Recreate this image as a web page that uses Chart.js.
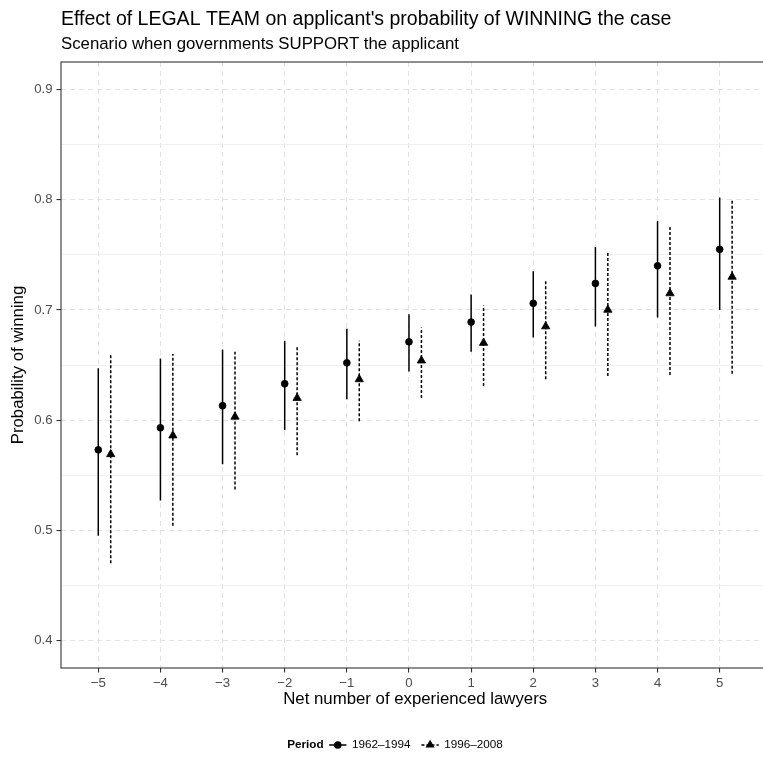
<!DOCTYPE html>
<html>
<head>
<meta charset="utf-8">
<script src="https://cdn.jsdelivr.net/npm/chart.js@4.4.0/dist/chart.umd.min.js"></script>
<style>
  html, body { margin: 0; padding: 0; background: #fff; }
  #wrap { width: 763px; height: 758px; overflow: hidden; }
</style>
</head>
<body>
<div id="wrap"><canvas id="chart" width="775" height="758"></canvas></div>
<script>
// net number of experienced lawyers
const lawyers = [-5, -4, -3, -2, -1, 0, 1, 2, 3, 4, 5];
const xTickLabels = ['\u22125', '\u22124', '\u22123', '\u22122', '\u22121', '0', '1', '2', '3', '4', '5'];

// 1962-1994
const early = [0.573, 0.593, 0.613, 0.633, 0.652, 0.671, 0.689, 0.706, 0.724, 0.740, 0.755];
const earlyLow = [0.495, 0.527, 0.560, 0.591, 0.619, 0.644, 0.662, 0.675, 0.685, 0.693, 0.700];
const earlyHigh = [0.647, 0.656, 0.664, 0.672, 0.683, 0.696, 0.714, 0.735, 0.757, 0.781, 0.802];

// 1996-2008
const late = [0.569, 0.586, 0.603, 0.620, 0.637, 0.654, 0.670, 0.685, 0.700, 0.715, 0.730];
const lateLow = [0.470, 0.504, 0.537, 0.568, 0.599, 0.620, 0.631, 0.637, 0.640, 0.641, 0.642];
const lateHigh = [0.660, 0.660, 0.662, 0.666, 0.672, 0.684, 0.704, 0.727, 0.753, 0.777, 0.801];
const lateShift = 0.2;

const yMajor = [0.4, 0.5, 0.6, 0.7, 0.8, 0.9];
const yMinor = [0.45, 0.55, 0.65, 0.75, 0.85];

const periodLabels = ['1962\u20131994', '1996\u20132008'];

const FONT = '"Liberation Sans", Arial, Helvetica, sans-serif';

function isMajor(v) {
    return yMajor.some(m => Math.abs(m - v) < 1e-6);
}

function barData(xs, lo, hi, shift) {
    let out = [];
    xs.forEach((x, i) => {
        out.push({x: x + shift, y: lo[i]});
        out.push({x: x + shift, y: hi[i]});
        out.push({x: x + shift, y: null});
    });
    return out;
}

const decor = {
    id: 'decor',
    afterDraw(chart) {
        const ctx = chart.ctx;
        const a = chart.chartArea;
        ctx.save();
        // panel border
        ctx.strokeStyle = '#333333';
        ctx.lineWidth = 1.1;
        ctx.strokeRect(a.left, a.top, a.right - a.left, a.bottom - a.top);

        // titles
        ctx.fillStyle = '#000';
        ctx.textBaseline = 'alphabetic';
        ctx.textAlign = 'left';
        ctx.font = '19.5px ' + FONT;
        ctx.fillText("Effect of LEGAL TEAM on applicant's probability of WINNING the case", a.left, 25);
        ctx.font = '16.8px ' + FONT;
        ctx.fillText('Scenario when governments SUPPORT the applicant', a.left, 49);

        // legend
        const y = 745;
        const keyW = 17.3;
        const gap = 5.5;
        ctx.font = 'bold 11.7px ' + FONT;
        const wTitle = ctx.measureText('Period').width;
        ctx.font = '11.7px ' + FONT;
        const w1 = ctx.measureText(periodLabels[0]).width;
        const w2 = ctx.measureText(periodLabels[1]).width;
        const total = wTitle + gap + keyW + gap + w1 + 11 + keyW + gap + w2;
        let x = 395 - total / 2;
        ctx.textBaseline = 'middle';
        ctx.font = 'bold 11.7px ' + FONT;
        ctx.fillText('Period', x, y);
        x += wTitle + gap;

        // key 1
        ctx.strokeStyle = '#000';
        ctx.lineWidth = 1.5;
        ctx.setLineDash([]);
        ctx.beginPath();
        ctx.moveTo(x, y); ctx.lineTo(x + keyW, y);
        ctx.stroke();
        ctx.beginPath();
        ctx.arc(x + keyW / 2, y, 3.8, 0, Math.PI * 2);
        ctx.fill();
        x += keyW + gap;
        ctx.font = '11.7px ' + FONT;
        ctx.fillText(periodLabels[0], x, y);
        x += w1 + 11;

        // key 2
        ctx.setLineDash([3, 2]);
        ctx.beginPath();
        ctx.moveTo(x, y); ctx.lineTo(x + keyW, y);
        ctx.stroke();
        ctx.setLineDash([]);
        const cx = x + keyW / 2, r = 5.2;
        ctx.beginPath();
        ctx.moveTo(cx, y - r);
        ctx.lineTo(cx + r * Math.sin(Math.PI / 3), y + r / 2);
        ctx.lineTo(cx - r * Math.sin(Math.PI / 3), y + r / 2);
        ctx.closePath();
        ctx.fill();
        x += keyW + gap;
        ctx.fillText(periodLabels[1], x, y);
        ctx.restore();
    }
};

const ctx = document.getElementById('chart').getContext('2d');
const chart = new Chart(ctx, {
    type: 'scatter',
    data: {
        datasets: [{
            label: periodLabels[0],
            data: lawyers.map((x, i) => ({x: x, y: early[i]})),
            pointStyle: 'circle',
            pointRadius: 3.4,
            backgroundColor: '#000',
            borderColor: '#000',
            borderWidth: 0.8
        }, {
            label: periodLabels[1],
            data: lawyers.map((x, i) => ({x: x + lateShift, y: late[i]})),
            pointStyle: 'triangle',
            pointRadius: 4.8,
            backgroundColor: '#000',
            borderColor: '#000',
            borderWidth: 0.8
        }, {
            label: periodLabels[0] + ' range',
            data: barData(lawyers, earlyLow, earlyHigh, 0),
            showLine: true,
            spanGaps: false,
            pointRadius: 0,
            borderColor: '#000',
            borderWidth: 1.5
        }, {
            label: periodLabels[1] + ' range',
            data: barData(lawyers, lateLow, lateHigh, lateShift),
            showLine: true,
            spanGaps: false,
            pointRadius: 0,
            borderColor: '#000',
            borderWidth: 1.5,
            borderDash: [3, 2]
        }]
    },
    options: {
        responsive: false,
        animation: false,
        devicePixelRatio: 1,
        events: [],
        layout: {
            padding: {top: 62, left: 0, right: 2, bottom: 49}
        },
        plugins: {
            legend: {display: false},
            tooltip: {enabled: false}
        },
        scales: {
            x: {
                type: 'linear',
                min: -5.6,
                max: 5.8,
                afterBuildTicks: (scale) => {
                    scale.ticks = lawyers.map(v => ({value: v}));
                },
                afterFit: (scale) => { scale.height = 41; },
                ticks: {
                    autoSkip: false,
                    maxRotation: 0,
                    padding: 3,
                    color: '#4d4d4d',
                    font: {family: FONT, size: 13.2},
                    callback: (v) => xTickLabels[lawyers.indexOf(v)]
                },
                grid: {
                    color: '#e3e3e3',
                    lineWidth: 1.1,
                    tickColor: '#333333',
                    tickLength: 4.5,
                    tickWidth: 1.1
                },
                border: {display: false, dash: [5, 4]},
                title: {
                    display: true,
                    text: 'Net number of experienced lawyers',
                    color: '#000',
                    font: {family: FONT, size: 16.8},
                    padding: {top: 0, bottom: 0}
                }
            },
            y: {
                type: 'linear',
                min: 0.375,
                max: 0.925,
                afterBuildTicks: (scale) => {
                    scale.ticks = yMajor.concat(yMinor).sort((a, b) => a - b).map(v => ({value: v}));
                },
                afterFit: (scale) => { scale.width = 61; },
                ticks: {
                    autoSkip: false,
                    padding: 4,
                    color: '#4d4d4d',
                    font: {family: FONT, size: 13.2},
                    callback: (v) => isMajor(v) ? v.toFixed(1) : ''
                },
                grid: {
                    color: (c) => (c.tick && isMajor(c.tick.value)) ? '#e3e3e3' : '#ececec',
                    lineWidth: (c) => (c.tick && isMajor(c.tick.value)) ? 1.1 : 0.8,
                    tickColor: (c) => (c.tick && isMajor(c.tick.value)) ? '#333333' : 'rgba(0,0,0,0)',
                    tickLength: 4.5,
                    tickWidth: 1.1
                },
                border: {
                    display: false,
                    dash: (c) => (c.tick && isMajor(c.tick.value)) ? [5, 4] : []
                },
                title: {
                    display: true,
                    text: 'Probability of winning',
                    color: '#000',
                    font: {family: FONT, size: 16.8},
                    padding: {top: 8, bottom: 0}
                }
            }
        }
    },
    plugins: [decor]
});
</script>
</body>
</html>
